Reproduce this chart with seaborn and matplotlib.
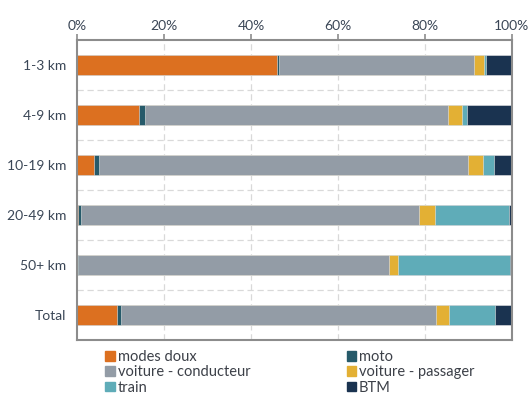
import numpy as np
import matplotlib
matplotlib.use('Agg')
import matplotlib.pyplot as plt
from matplotlib.patches import Patch
import seaborn as sns

# Données (parts en %)
categories = ['1-3 km', '4-9 km', '10-19 km', '20-49 km', '50+ km', 'Total']
modes = ['modes doux', 'moto', 'voiture - conducteur', 'voiture - passager', 'train', 'BTM']
modes_doux = [46.0, 14.3, 3.9, 0.3, 0.1, 9.3]
moto = [0.4, 1.3, 1.1, 0.7, 0.2, 0.7]
conducteur = [44.9, 69.6, 85.0, 77.6, 71.5, 72.5]
passager = [2.3, 3.3, 3.3, 3.8, 1.9, 3.1]
train = [0.4, 1.1, 2.6, 16.8, 25.8, 10.6]
btm = [6.0, 10.4, 4.1, 0.8, 0.5, 3.8]
colors = ['#DC7020', '#265A6A', '#939CA6', '#E3B034', '#5FACB8', '#1A3350']

sns.set_style('white')
plt.rcParams['font.family'] = ['Lato', 'DejaVu Sans']

fig = plt.figure(figsize=(5.3, 3.96), dpi=100)
ax = fig.add_axes([0.1453, 0.1414, 0.8207, 0.7576])

series = [modes_doux, moto, conducteur, passager, train, btm]
cum = np.cumsum(np.array(series), axis=0)
# barres empilées : on dessine les cumuls du plus grand au plus petit
for i in range(len(series) - 1, -1, -1):
    sns.barplot(x=cum[i], y=categories, color=colors[i], orient='h',
                width=0.39, ax=ax, saturation=1, edgecolor='#e6e6e6', linewidth=0.4)

ax.set_xlim(0, 100)
ax.set_ylim(5.5, -0.5)
ax.xaxis.tick_top()
ax.set_xticks([0, 20, 40, 60, 80, 100])
ax.set_xticklabels([f'{v}%' for v in range(0, 101, 20)])
ax.set_xlabel('')
ax.set_ylabel('')
ax.tick_params(axis='x', length=4, width=1.2, color='#8c8c8c', labelsize=10,
               labelcolor='#3a4656', pad=2)
ax.tick_params(axis='y', which='major', length=0, labelsize=10, labelcolor='#3a4656', pad=8)
ax.set_yticks(np.arange(-0.5, 6, 1), minor=True)
ax.tick_params(axis='y', which='minor', length=5, width=1.2, color='#8c8c8c')

for v in [20, 40, 60, 80]:
    ax.axvline(v, color='#d9d9d9', lw=0.9, ls=(0, (5, 3)), zorder=0)
for v in np.arange(0.5, 5, 1):
    ax.axhline(v, color='#d9d9d9', lw=0.9, ls=(0, (5, 3)), zorder=0)

for s in ax.spines.values():
    s.set_visible(True)
    s.set_color('#8c8c8c')
    s.set_linewidth(1.5)

handles = [Patch(color=c, label=m) for c, m in zip(colors, modes)]
order = [0, 2, 4, 1, 3, 5]
fig.legend([handles[i] for i in order], [modes[i] for i in order],
           loc='upper left', bbox_to_anchor=(0.185, 0.134), ncol=2, frameon=False,
           fontsize=10.5, handlelength=0.65, handleheight=0.65, handletextpad=0.2,
           columnspacing=6.6, labelspacing=0.08, borderpad=0, labelcolor='#3c4048')

fig.savefig('out.png', dpi=100)
